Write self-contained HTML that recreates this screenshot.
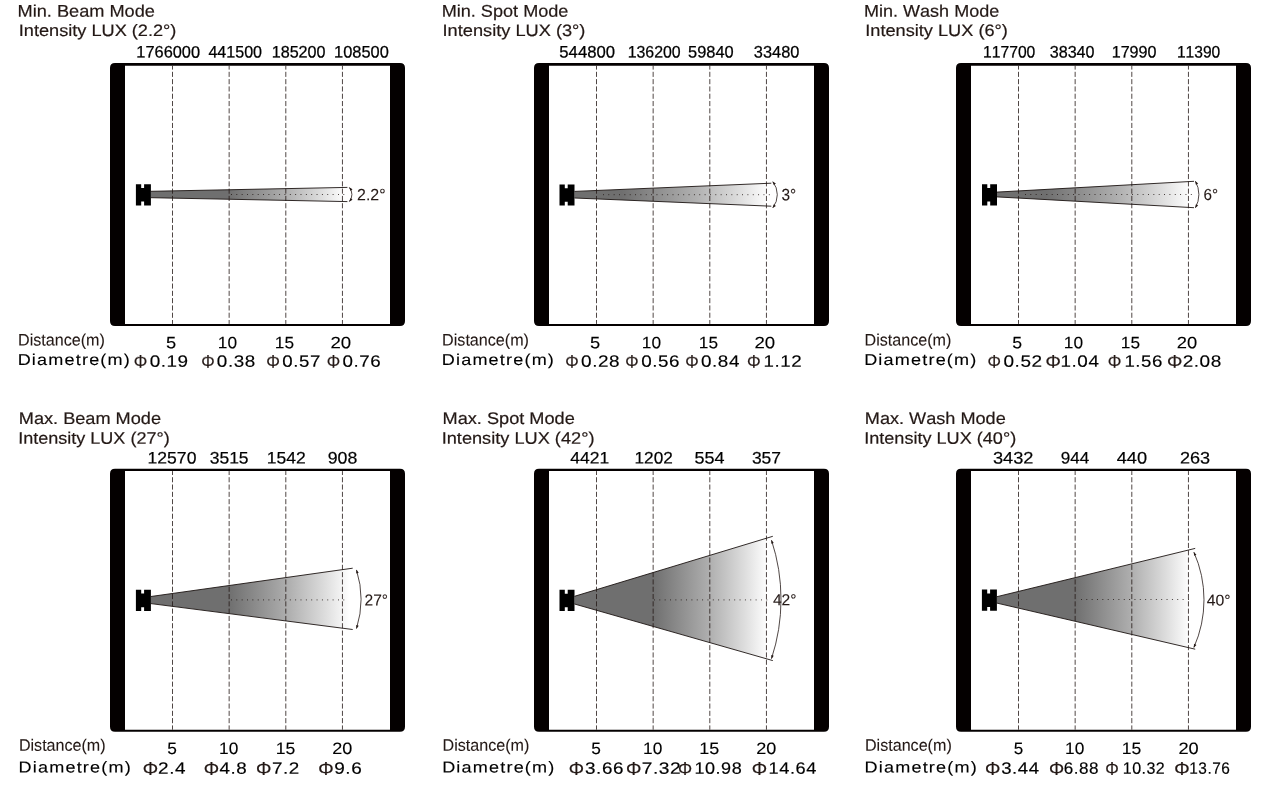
<!DOCTYPE html><html lang="en"><head><meta charset="utf-8"><title>Photometric data</title><style>html,body{margin:0;padding:0;background:#fff}body{width:1263px;height:785px;overflow:hidden}</style></head><body><svg width="1263" height="785" viewBox="0 0 1263 785" font-family='"Liberation Sans", Arial, sans-serif' fill="#231815" style="display:block;font-kerning:none;text-rendering:geometricPrecision"><rect width="1263" height="785" fill="#fff"/><g id="beams"><linearGradient id="g0" gradientUnits="userSpaceOnUse" x1="228.5" y1="0" x2="345.0" y2="0"><stop offset="0" stop-color="#6f6f6f"/><stop offset="0.5" stop-color="#b0b0b0"/><stop offset="0.8" stop-color="#dedede"/><stop offset="1" stop-color="#ffffff"/></linearGradient><path fill="url(#g0)" d="M150.90 191.30L346.00 187.43V201.57L150.90 197.70Z"/><path fill="none" stroke="#1c1412" stroke-width="0.9" d="M150.90 191.30L347.40 187.40M150.90 197.70L347.40 201.60"/><path fill="none" stroke="#231815" stroke-width="0.9" stroke-dasharray="0.9 4.45" d="M231.00 194.50H347.00"/><path fill="none" stroke="#231815" stroke-width="0.8" d="M349.40 187.50A11.05 11.05 0 0 1 349.40 201.50"/><path fill="#231815" d="M349.21 187.27L352.50 189.23L350.48 190.88Z"/><path fill="#231815" d="M349.21 201.73L352.50 199.77L350.48 198.12Z"/><linearGradient id="g1" gradientUnits="userSpaceOnUse" x1="622.0" y1="0" x2="769.0" y2="0"><stop offset="0" stop-color="#6f6f6f"/><stop offset="0.5" stop-color="#b0b0b0"/><stop offset="0.8" stop-color="#dedede"/><stop offset="1" stop-color="#ffffff"/></linearGradient><path fill="url(#g1)" d="M574.50 191.40L765.60 183.44V205.96L574.50 198.00Z"/><path fill="none" stroke="#1c1412" stroke-width="0.9" d="M574.50 191.40L771.30 183.20M574.50 198.00L771.30 206.20"/><path fill="none" stroke="#231815" stroke-width="0.9" stroke-dasharray="0.9 4.45" d="M603.00 194.70H771.00"/><path fill="none" stroke="#231815" stroke-width="0.8" d="M772.80 181.70A21.03 21.03 0 0 1 772.80 207.70"/><path fill="#231815" d="M772.61 181.46L775.86 183.49L773.82 185.10Z"/><path fill="#231815" d="M772.61 207.94L775.86 205.91L773.82 204.30Z"/><linearGradient id="g2" gradientUnits="userSpaceOnUse" x1="1046.0" y1="0" x2="1191.0" y2="0"><stop offset="0" stop-color="#6f6f6f"/><stop offset="0.5" stop-color="#b0b0b0"/><stop offset="0.8" stop-color="#dedede"/><stop offset="1" stop-color="#ffffff"/></linearGradient><path fill="url(#g2)" d="M997.00 192.10L1189.00 181.57V207.43L997.00 196.90Z"/><path fill="none" stroke="#1c1412" stroke-width="0.9" d="M997.00 192.10L1194.00 181.30M997.00 196.90L1194.00 207.70"/><path fill="none" stroke="#231815" stroke-width="0.9" stroke-dasharray="0.9 4.45" d="M1025.00 194.50H1192.00"/><path fill="none" stroke="#231815" stroke-width="0.8" d="M1195.40 181.30A26.64 26.64 0 0 1 1195.40 207.70"/><path fill="#231815" d="M1195.25 181.04L1198.16 183.52L1195.91 184.81Z"/><path fill="#231815" d="M1195.25 207.96L1198.16 205.48L1195.91 204.19Z"/><linearGradient id="g3" gradientUnits="userSpaceOnUse" x1="229.0" y1="0" x2="350.0" y2="0"><stop offset="0" stop-color="#6f6f6f"/><stop offset="0.5" stop-color="#b0b0b0"/><stop offset="0.8" stop-color="#dedede"/><stop offset="1" stop-color="#ffffff"/></linearGradient><path fill="url(#g3)" d="M150.90 596.50L352.00 568.30V629.41L150.90 603.60Z"/><path fill="none" stroke="#1c1412" stroke-width="0.9" d="M150.90 596.50L352.70 568.20M150.90 603.60L352.70 629.50"/><path fill="none" stroke="#231815" stroke-width="0.9" stroke-dasharray="0.9 4.45" d="M231.00 599.90H346.00"/><path fill="none" stroke="#231815" stroke-width="0.8" d="M356.50 569.95A97.64 97.64 0 0 1 356.50 628.55"/><path fill="#231815" d="M356.41 569.66L358.73 572.71L356.25 573.49Z"/><path fill="#231815" d="M356.41 628.84L358.73 625.79L356.25 625.01Z"/><linearGradient id="g4" gradientUnits="userSpaceOnUse" x1="653.0" y1="0" x2="768.0" y2="0"><stop offset="0" stop-color="#6f6f6f"/><stop offset="0.5" stop-color="#b0b0b0"/><stop offset="0.8" stop-color="#dedede"/><stop offset="1" stop-color="#ffffff"/></linearGradient><path fill="url(#g4)" d="M574.50 596.30L767.00 538.05V658.94L574.50 604.00Z"/><path fill="none" stroke="#1c1412" stroke-width="0.9" d="M574.50 596.30L772.80 536.30M574.50 604.00L772.80 660.60"/><path fill="none" stroke="#231815" stroke-width="0.9" stroke-dasharray="0.9 4.45" d="M654.00 599.90H768.00"/><path fill="none" stroke="#231815" stroke-width="0.8" d="M771.50 540.20A189.20 189.20 0 0 1 771.50 658.60"/><path fill="#231815" d="M771.41 539.92L773.77 542.93L771.30 543.74Z"/><path fill="#231815" d="M771.41 658.88L773.77 655.87L771.30 655.06Z"/><linearGradient id="g5" gradientUnits="userSpaceOnUse" x1="1075.0" y1="0" x2="1190.0" y2="0"><stop offset="0" stop-color="#6f6f6f"/><stop offset="0.5" stop-color="#b0b0b0"/><stop offset="0.8" stop-color="#dedede"/><stop offset="1" stop-color="#ffffff"/></linearGradient><path fill="url(#g5)" d="M996.90 596.70L1190.00 549.67V647.99L996.90 603.10Z"/><path fill="none" stroke="#1c1412" stroke-width="0.9" d="M996.90 596.70L1195.20 548.40M996.90 603.10L1195.20 649.20"/><path fill="none" stroke="#231815" stroke-width="0.9" stroke-dasharray="0.9 4.45" d="M1081.00 599.50H1193.00"/><path fill="none" stroke="#231815" stroke-width="0.8" d="M1193.90 552.20A117.22 117.22 0 0 1 1193.90 647.40"/><path fill="#231815" d="M1193.78 551.93L1196.43 554.69L1194.05 555.74Z"/><path fill="#231815" d="M1193.78 647.67L1196.43 644.91L1194.05 643.86Z"/></g><path fill="#040000" fill-rule="evenodd" d="M115.00 63.00H400.00Q405.00 63.00 405.00 68.00V321.00Q405.00 326.00 400.00 326.00H115.00Q110.00 326.00 110.00 321.00V68.00Q110.00 63.00 115.00 63.00ZM125.00 65.70V323.90H390.00V65.70Z"/><path fill="none" stroke="#231815" stroke-width="0.8" stroke-dasharray="5.1 2.2" stroke-dashoffset="1.2" d="M172.50 65.70V323.90"/><path fill="none" stroke="#231815" stroke-width="0.8" stroke-dasharray="5.1 2.2" stroke-dashoffset="1.2" d="M229.15 65.70V323.90"/><path fill="none" stroke="#231815" stroke-width="0.8" stroke-dasharray="5.1 2.2" stroke-dashoffset="1.2" d="M285.80 65.70V323.90"/><path fill="none" stroke="#231815" stroke-width="0.8" stroke-dasharray="5.1 2.2" stroke-dashoffset="1.2" d="M342.45 65.70V323.90"/><path fill="#000" d="M135.90 184.20H141.20V188.00H144.10V184.20H150.90V205.40H144.10V201.60H141.20V205.40H135.90Z"/><path fill="#040000" fill-rule="evenodd" d="M539.00 63.00H824.00Q829.00 63.00 829.00 68.00V321.00Q829.00 326.00 824.00 326.00H539.00Q534.00 326.00 534.00 321.00V68.00Q534.00 63.00 539.00 63.00ZM549.00 65.70V323.90H814.00V65.70Z"/><path fill="none" stroke="#231815" stroke-width="0.8" stroke-dasharray="5.1 2.2" stroke-dashoffset="1.2" d="M596.50 65.70V323.90"/><path fill="none" stroke="#231815" stroke-width="0.8" stroke-dasharray="5.1 2.2" stroke-dashoffset="1.2" d="M653.15 65.70V323.90"/><path fill="none" stroke="#231815" stroke-width="0.8" stroke-dasharray="5.1 2.2" stroke-dashoffset="1.2" d="M709.80 65.70V323.90"/><path fill="none" stroke="#231815" stroke-width="0.8" stroke-dasharray="5.1 2.2" stroke-dashoffset="1.2" d="M766.45 65.70V323.90"/><path fill="#000" d="M559.50 184.40H564.80V188.20H567.70V184.40H574.50V205.60H567.70V201.80H564.80V205.60H559.50Z"/><path fill="#040000" fill-rule="evenodd" d="M961.00 63.00H1246.00Q1251.00 63.00 1251.00 68.00V321.00Q1251.00 326.00 1246.00 326.00H961.00Q956.00 326.00 956.00 321.00V68.00Q956.00 63.00 961.00 63.00ZM971.00 65.70V323.90H1236.00V65.70Z"/><path fill="none" stroke="#231815" stroke-width="0.8" stroke-dasharray="5.1 2.2" stroke-dashoffset="1.2" d="M1018.50 65.70V323.90"/><path fill="none" stroke="#231815" stroke-width="0.8" stroke-dasharray="5.1 2.2" stroke-dashoffset="1.2" d="M1075.15 65.70V323.90"/><path fill="none" stroke="#231815" stroke-width="0.8" stroke-dasharray="5.1 2.2" stroke-dashoffset="1.2" d="M1131.80 65.70V323.90"/><path fill="none" stroke="#231815" stroke-width="0.8" stroke-dasharray="5.1 2.2" stroke-dashoffset="1.2" d="M1188.45 65.70V323.90"/><path fill="#000" d="M982.00 184.20H987.30V188.00H990.20V184.20H997.00V205.40H990.20V201.60H987.30V205.40H982.00Z"/><path fill="#040000" fill-rule="evenodd" d="M115.00 468.80H400.00Q405.00 468.80 405.00 473.80V726.80Q405.00 731.80 400.00 731.80H115.00Q110.00 731.80 110.00 726.80V473.80Q110.00 468.80 115.00 468.80ZM125.00 471.10V729.70H390.00V471.10Z"/><path fill="none" stroke="#231815" stroke-width="0.8" stroke-dasharray="5.1 2.2" stroke-dashoffset="1.2" d="M172.50 471.10V729.70"/><path fill="none" stroke="#231815" stroke-width="0.8" stroke-dasharray="5.1 2.2" stroke-dashoffset="1.2" d="M229.15 471.10V729.70"/><path fill="none" stroke="#231815" stroke-width="0.8" stroke-dasharray="5.1 2.2" stroke-dashoffset="1.2" d="M285.80 471.10V729.70"/><path fill="none" stroke="#231815" stroke-width="0.8" stroke-dasharray="5.1 2.2" stroke-dashoffset="1.2" d="M342.45 471.10V729.70"/><path fill="#000" d="M135.90 589.75H141.20V593.55H144.10V589.75H150.90V610.95H144.10V607.15H141.20V610.95H135.90Z"/><path fill="#040000" fill-rule="evenodd" d="M539.00 468.80H824.00Q829.00 468.80 829.00 473.80V726.80Q829.00 731.80 824.00 731.80H539.00Q534.00 731.80 534.00 726.80V473.80Q534.00 468.80 539.00 468.80ZM549.00 471.10V729.70H814.00V471.10Z"/><path fill="none" stroke="#231815" stroke-width="0.8" stroke-dasharray="5.1 2.2" stroke-dashoffset="1.2" d="M596.50 471.10V729.70"/><path fill="none" stroke="#231815" stroke-width="0.8" stroke-dasharray="5.1 2.2" stroke-dashoffset="1.2" d="M653.15 471.10V729.70"/><path fill="none" stroke="#231815" stroke-width="0.8" stroke-dasharray="5.1 2.2" stroke-dashoffset="1.2" d="M709.80 471.10V729.70"/><path fill="none" stroke="#231815" stroke-width="0.8" stroke-dasharray="5.1 2.2" stroke-dashoffset="1.2" d="M766.45 471.10V729.70"/><path fill="#000" d="M559.50 589.85H564.80V593.65H567.70V589.85H574.50V611.05H567.70V607.25H564.80V611.05H559.50Z"/><path fill="#040000" fill-rule="evenodd" d="M961.00 468.80H1246.00Q1251.00 468.80 1251.00 473.80V726.80Q1251.00 731.80 1246.00 731.80H961.00Q956.00 731.80 956.00 726.80V473.80Q956.00 468.80 961.00 468.80ZM971.00 471.10V729.70H1236.00V471.10Z"/><path fill="none" stroke="#231815" stroke-width="0.8" stroke-dasharray="5.1 2.2" stroke-dashoffset="1.2" d="M1018.50 471.10V729.70"/><path fill="none" stroke="#231815" stroke-width="0.8" stroke-dasharray="5.1 2.2" stroke-dashoffset="1.2" d="M1075.15 471.10V729.70"/><path fill="none" stroke="#231815" stroke-width="0.8" stroke-dasharray="5.1 2.2" stroke-dashoffset="1.2" d="M1131.80 471.10V729.70"/><path fill="none" stroke="#231815" stroke-width="0.8" stroke-dasharray="5.1 2.2" stroke-dashoffset="1.2" d="M1188.45 471.10V729.70"/><path fill="#000" d="M981.90 589.60H987.20V593.40H990.10V589.60H996.90V610.80H990.10V607.00H987.20V610.80H981.90Z"/><text transform="translate(17.54 16.70) rotate(0.03) scale(1.0729 1)" font-size="16.96" stroke="#231815" stroke-width="0.2">Min. Beam Mode</text><text transform="translate(18.77 36.00) rotate(0.03) scale(1.0995 1)" font-size="16.52" stroke="#231815" stroke-width="0.2">Intensity LUX (2.2°)</text><text transform="translate(441.65 16.70) rotate(0.03) scale(1.0686 1)" font-size="16.96" stroke="#231815" stroke-width="0.2">Min. Spot Mode</text><text transform="translate(442.56 36.00) rotate(0.03) scale(1.1022 1)" font-size="16.52" stroke="#231815" stroke-width="0.2">Intensity LUX (3°)</text><text transform="translate(864.06 16.70) rotate(0.03) scale(1.0635 1)" font-size="16.96" stroke="#231815" stroke-width="0.2">Min. Wash Mode</text><text transform="translate(865.26 36.00) rotate(0.03) scale(1.1007 1)" font-size="16.52" stroke="#231815" stroke-width="0.2">Intensity LUX (6°)</text><text transform="translate(18.75 423.90) rotate(0.03) scale(1.0810 1)" font-size="16.81" stroke="#231815" stroke-width="0.2">Max. Beam Mode</text><text transform="translate(18.18 443.70) rotate(0.03) scale(1.0823 1)" font-size="16.67" stroke="#231815" stroke-width="0.2">Intensity LUX (27°)</text><text transform="translate(442.55 423.90) rotate(0.03) scale(1.0809 1)" font-size="16.81" stroke="#231815" stroke-width="0.2">Max. Spot Mode</text><text transform="translate(441.66 443.70) rotate(0.03) scale(1.0917 1)" font-size="16.67" stroke="#231815" stroke-width="0.2">Intensity LUX (42°)</text><text transform="translate(864.85 423.90) rotate(0.03) scale(1.0780 1)" font-size="16.81" stroke="#231815" stroke-width="0.2">Max. Wash Mode</text><text transform="translate(864.17 443.70) rotate(0.03) scale(1.0859 1)" font-size="16.67" stroke="#231815" stroke-width="0.2">Intensity LUX (40°)</text><text transform="translate(136.35 57.60) rotate(0.03) scale(0.9823 1)" font-size="16.67" fill="#000" stroke="#000" stroke-width="0.25">1766000</text><text transform="translate(208.38 57.60) rotate(0.03) scale(0.9656 1)" font-size="16.67" fill="#000" stroke="#000" stroke-width="0.25">441500</text><text transform="translate(271.67 57.60) rotate(0.03) scale(0.9694 1)" font-size="16.67" fill="#000" stroke="#000" stroke-width="0.25">185200</text><text transform="translate(334.05 57.60) rotate(0.03) scale(0.9843 1)" font-size="16.67" fill="#000" stroke="#000" stroke-width="0.25">108500</text><text transform="translate(559.33 57.60) rotate(0.03) scale(1.0028 1)" font-size="16.67" fill="#000" stroke="#000" stroke-width="0.25">544800</text><text transform="translate(627.69 57.60) rotate(0.03) scale(0.9527 1)" font-size="16.67" fill="#000" stroke="#000" stroke-width="0.25">136200</text><text transform="translate(688.04 57.60) rotate(0.03) scale(0.9850 1)" font-size="16.67" fill="#000" stroke="#000" stroke-width="0.25">59840</text><text transform="translate(753.81 57.60) rotate(0.03) scale(0.9836 1)" font-size="16.67" fill="#000" stroke="#000" stroke-width="0.25">33480</text><text transform="translate(983.00 57.60) rotate(0.03) scale(0.9416 1)" font-size="16.67" fill="#000" stroke="#000" stroke-width="0.25">117700</text><text transform="translate(1049.72 57.60) rotate(0.03) scale(0.9681 1)" font-size="16.67" fill="#000" stroke="#000" stroke-width="0.25">38340</text><text transform="translate(1111.67 57.60) rotate(0.03) scale(0.9691 1)" font-size="16.67" fill="#000" stroke="#000" stroke-width="0.25">17990</text><text transform="translate(1176.91 57.60) rotate(0.03) scale(0.9355 1)" font-size="16.67" fill="#000" stroke="#000" stroke-width="0.25">11390</text><text transform="translate(147.57 463.40) rotate(0.03) scale(1.0544 1)" font-size="16.67" fill="#000" stroke="#000" stroke-width="0.2">12570</text><text transform="translate(209.67 463.40) rotate(0.03) scale(1.0508 1)" font-size="16.67" fill="#000" stroke="#000" stroke-width="0.2">3515</text><text transform="translate(266.67 463.40) rotate(0.03) scale(1.0529 1)" font-size="16.67" fill="#000" stroke="#000" stroke-width="0.2">1542</text><text transform="translate(327.69 463.40) rotate(0.03) scale(1.0626 1)" font-size="16.67" fill="#000" stroke="#000" stroke-width="0.2">908</text><text transform="translate(570.35 463.40) rotate(0.03) scale(1.0508 1)" font-size="16.67" fill="#000" stroke="#000" stroke-width="0.2">4421</text><text transform="translate(634.49 463.40) rotate(0.03) scale(1.0330 1)" font-size="16.67" fill="#000" stroke="#000" stroke-width="0.2">1202</text><text transform="translate(694.38 463.40) rotate(0.03) scale(1.0822 1)" font-size="16.67" fill="#000" stroke="#000" stroke-width="0.2">554</text><text transform="translate(751.88 463.40) rotate(0.03) scale(1.0475 1)" font-size="16.67" fill="#000" stroke="#000" stroke-width="0.2">357</text><text transform="translate(992.95 463.40) rotate(0.03) scale(1.0919 1)" font-size="16.67" fill="#000" stroke="#000" stroke-width="0.2">3432</text><text transform="translate(1060.82 463.40) rotate(0.03) scale(1.0260 1)" font-size="16.67" fill="#000" stroke="#000" stroke-width="0.2">944</text><text transform="translate(1116.74 463.40) rotate(0.03) scale(1.0904 1)" font-size="16.67" fill="#000" stroke="#000" stroke-width="0.2">440</text><text transform="translate(1179.90 463.40) rotate(0.03) scale(1.0845 1)" font-size="16.67" fill="#000" stroke="#000" stroke-width="0.2">263</text><text transform="translate(18.01 345.40) rotate(0.03) scale(0.9721 1)" font-size="16.59" stroke="#231815" stroke-width="0.1">Distance(m)</text><text transform="translate(17.65 365.00) rotate(0.03) scale(1.1435 1)" font-size="15.80" letter-spacing="1.03" fill="#000" stroke="#000" stroke-width="0.12">Diametre(m)</text><text transform="translate(442.11 345.40) rotate(0.03) scale(0.9721 1)" font-size="16.59" stroke="#231815" stroke-width="0.1">Distance(m)</text><text transform="translate(441.75 365.00) rotate(0.03) scale(1.1435 1)" font-size="15.80" letter-spacing="1.03" fill="#000" stroke="#000" stroke-width="0.12">Diametre(m)</text><text transform="translate(864.51 345.40) rotate(0.03) scale(0.9721 1)" font-size="16.59" stroke="#231815" stroke-width="0.1">Distance(m)</text><text transform="translate(864.15 365.00) rotate(0.03) scale(1.1435 1)" font-size="15.80" letter-spacing="1.03" fill="#000" stroke="#000" stroke-width="0.12">Diametre(m)</text><text transform="translate(18.91 750.70) rotate(0.03) scale(0.9699 1)" font-size="16.59" stroke="#231815" stroke-width="0.1">Distance(m)</text><text transform="translate(18.55 772.40) rotate(0.03) scale(1.1435 1)" font-size="15.80" letter-spacing="1.03" fill="#000" stroke="#000" stroke-width="0.12">Diametre(m)</text><text transform="translate(442.51 750.70) rotate(0.03) scale(0.9710 1)" font-size="16.59" stroke="#231815" stroke-width="0.1">Distance(m)</text><text transform="translate(442.15 772.40) rotate(0.03) scale(1.1435 1)" font-size="15.80" letter-spacing="1.03" fill="#000" stroke="#000" stroke-width="0.12">Diametre(m)</text><text transform="translate(864.91 750.70) rotate(0.03) scale(0.9721 1)" font-size="16.59" stroke="#231815" stroke-width="0.1">Distance(m)</text><text transform="translate(864.55 772.40) rotate(0.03) scale(1.1435 1)" font-size="15.80" letter-spacing="1.03" fill="#000" stroke="#000" stroke-width="0.12">Diametre(m)</text><text transform="translate(165.97 348.30) rotate(0.03) scale(1.1096 1)" font-size="16.52" fill="#000" stroke="#000" stroke-width="0.12">5</text><text transform="translate(217.79 348.30) rotate(0.03) scale(1.0467 1)" font-size="16.52" fill="#000" stroke="#000" stroke-width="0.12">10</text><text transform="translate(274.79 348.30) rotate(0.03) scale(1.0467 1)" font-size="16.52" fill="#000" stroke="#000" stroke-width="0.12">15</text><text transform="translate(330.47 348.30) rotate(0.03) scale(1.1266 1)" font-size="16.52" fill="#000" stroke="#000" stroke-width="0.12">20</text><text transform="translate(589.97 348.30) rotate(0.03) scale(1.1096 1)" font-size="16.52" fill="#000" stroke="#000" stroke-width="0.12">5</text><text transform="translate(641.79 348.30) rotate(0.03) scale(1.0467 1)" font-size="16.52" fill="#000" stroke="#000" stroke-width="0.12">10</text><text transform="translate(698.79 348.30) rotate(0.03) scale(1.0467 1)" font-size="16.52" fill="#000" stroke="#000" stroke-width="0.12">15</text><text transform="translate(754.47 348.30) rotate(0.03) scale(1.1266 1)" font-size="16.52" fill="#000" stroke="#000" stroke-width="0.12">20</text><text transform="translate(1012.29 348.30) rotate(0.03) scale(1.0718 1)" font-size="16.52" fill="#000" stroke="#000" stroke-width="0.12">5</text><text transform="translate(1063.79 348.30) rotate(0.03) scale(1.0467 1)" font-size="16.52" fill="#000" stroke="#000" stroke-width="0.12">10</text><text transform="translate(1120.79 348.30) rotate(0.03) scale(1.0467 1)" font-size="16.52" fill="#000" stroke="#000" stroke-width="0.12">15</text><text transform="translate(1176.78 348.30) rotate(0.03) scale(1.1089 1)" font-size="16.52" fill="#000" stroke="#000" stroke-width="0.12">20</text><text transform="translate(167.31 753.90) rotate(0.03) scale(1.0466 1)" font-size="16.52" fill="#000" stroke="#000" stroke-width="0.12">5</text><text transform="translate(219.09 753.90) rotate(0.03) scale(1.0467 1)" font-size="16.52" fill="#000" stroke="#000" stroke-width="0.12">10</text><text transform="translate(275.67 753.90) rotate(0.03) scale(1.0648 1)" font-size="16.52" fill="#000" stroke="#000" stroke-width="0.12">15</text><text transform="translate(332.20 753.90) rotate(0.03) scale(1.0912 1)" font-size="16.52" fill="#000" stroke="#000" stroke-width="0.12">20</text><text transform="translate(591.31 753.90) rotate(0.03) scale(1.0466 1)" font-size="16.52" fill="#000" stroke="#000" stroke-width="0.12">5</text><text transform="translate(643.09 753.90) rotate(0.03) scale(1.0467 1)" font-size="16.52" fill="#000" stroke="#000" stroke-width="0.12">10</text><text transform="translate(699.24 753.90) rotate(0.03) scale(1.0888 1)" font-size="16.52" fill="#000" stroke="#000" stroke-width="0.12">15</text><text transform="translate(756.20 753.90) rotate(0.03) scale(1.0912 1)" font-size="16.52" fill="#000" stroke="#000" stroke-width="0.12">20</text><text transform="translate(1013.72 753.90) rotate(0.03) scale(1.0340 1)" font-size="16.52" fill="#000" stroke="#000" stroke-width="0.12">5</text><text transform="translate(1065.09 753.90) rotate(0.03) scale(1.0467 1)" font-size="16.52" fill="#000" stroke="#000" stroke-width="0.12">10</text><text transform="translate(1121.67 753.90) rotate(0.03) scale(1.0648 1)" font-size="16.52" fill="#000" stroke="#000" stroke-width="0.12">15</text><text transform="translate(1178.49 753.90) rotate(0.03) scale(1.1030 1)" font-size="16.52" fill="#000" stroke="#000" stroke-width="0.12">20</text><text transform="translate(133.66 367.30) rotate(0.03) scale(1.0416 1)" font-size="16.18" stroke="#231815" stroke-width="0.2" font-family='"Noto Sans CJK SC", sans-serif'>Φ</text><text transform="translate(149.63 366.70) rotate(0.03) scale(1.1425 1)" font-size="16.52" letter-spacing="0.50" fill="#000" stroke="#000" stroke-width="0.15">0.19</text><text transform="translate(201.16 367.30) rotate(0.03) scale(1.0328 1)" font-size="16.18" stroke="#231815" stroke-width="0.2" font-family='"Noto Sans CJK SC", sans-serif'>Φ</text><text transform="translate(216.84 366.70) rotate(0.03) scale(1.1398 1)" font-size="16.52" letter-spacing="0.50" fill="#000" stroke="#000" stroke-width="0.15">0.38</text><text transform="translate(266.15 367.30) rotate(0.03) scale(1.0504 1)" font-size="16.18" stroke="#231815" stroke-width="0.2" font-family='"Noto Sans CJK SC", sans-serif'>Φ</text><text transform="translate(282.24 366.70) rotate(0.03) scale(1.1302 1)" font-size="16.52" letter-spacing="0.50" fill="#000" stroke="#000" stroke-width="0.15">0.57</text><text transform="translate(326.66 367.30) rotate(0.03) scale(1.0328 1)" font-size="16.18" stroke="#231815" stroke-width="0.2" font-family='"Noto Sans CJK SC", sans-serif'>Φ</text><text transform="translate(342.44 366.70) rotate(0.03) scale(1.1367 1)" font-size="16.52" letter-spacing="0.50" fill="#000" stroke="#000" stroke-width="0.15">0.76</text><text transform="translate(565.16 367.30) rotate(0.03) scale(1.0328 1)" font-size="16.18" stroke="#231815" stroke-width="0.2" font-family='"Noto Sans CJK SC", sans-serif'>Φ</text><text transform="translate(581.03 366.70) rotate(0.03) scale(1.1459 1)" font-size="16.52" letter-spacing="0.50" fill="#000" stroke="#000" stroke-width="0.15">0.28</text><text transform="translate(625.27 367.30) rotate(0.03) scale(1.0239 1)" font-size="16.18" stroke="#231815" stroke-width="0.2" font-family='"Noto Sans CJK SC", sans-serif'>Φ</text><text transform="translate(641.24 366.70) rotate(0.03) scale(1.1398 1)" font-size="16.52" letter-spacing="0.50" fill="#000" stroke="#000" stroke-width="0.15">0.56</text><text transform="translate(685.16 367.30) rotate(0.03) scale(1.0328 1)" font-size="16.18" stroke="#231815" stroke-width="0.2" font-family='"Noto Sans CJK SC", sans-serif'>Φ</text><text transform="translate(701.03 366.70) rotate(0.03) scale(1.1401 1)" font-size="16.52" letter-spacing="0.50" fill="#000" stroke="#000" stroke-width="0.15">0.84</text><text transform="translate(747.05 367.30) rotate(0.03) scale(1.0504 1)" font-size="16.18" stroke="#231815" stroke-width="0.2" font-family='"Noto Sans CJK SC", sans-serif'>Φ</text><text transform="translate(763.59 366.70) rotate(0.03) scale(1.1348 1)" font-size="16.52" letter-spacing="0.50" fill="#000" stroke="#000" stroke-width="0.15">1.12</text><text transform="translate(987.56 367.30) rotate(0.03) scale(1.0328 1)" font-size="16.18" stroke="#231815" stroke-width="0.2" font-family='"Noto Sans CJK SC", sans-serif'>Φ</text><text transform="translate(1003.43 366.70) rotate(0.03) scale(1.1487 1)" font-size="16.52" letter-spacing="0.50" fill="#000" stroke="#000" stroke-width="0.15">0.52</text><text transform="translate(1045.44 367.30) rotate(0.03) scale(1.1828 1)" font-size="16.18" stroke="#231815" stroke-width="0.2" font-family='"Noto Sans CJK SC", sans-serif'>Φ</text><text transform="translate(1060.48 366.70) rotate(0.03) scale(1.1418 1)" font-size="16.52" letter-spacing="0.50" fill="#000" stroke="#000" stroke-width="0.15">1.04</text><text transform="translate(1107.85 367.30) rotate(0.03) scale(1.0504 1)" font-size="16.18" stroke="#231815" stroke-width="0.2" font-family='"Noto Sans CJK SC", sans-serif'>Φ</text><text transform="translate(1124.39 366.70) rotate(0.03) scale(1.1320 1)" font-size="16.52" letter-spacing="0.50" fill="#000" stroke="#000" stroke-width="0.15">1.56</text><text transform="translate(1166.94 367.30) rotate(0.03) scale(1.1828 1)" font-size="16.18" stroke="#231815" stroke-width="0.2" font-family='"Noto Sans CJK SC", sans-serif'>Φ</text><text transform="translate(1182.65 366.70) rotate(0.03) scale(1.1484 1)" font-size="16.52" letter-spacing="0.50" fill="#000" stroke="#000" stroke-width="0.15">2.08</text><text transform="translate(142.64 774.40) rotate(0.03) scale(1.1639 1)" font-size="16.45" stroke="#231815" stroke-width="0.2" font-family='"Noto Sans CJK SC", sans-serif'>Φ</text><text transform="translate(158.05 773.80) rotate(0.03) scale(1.1453 1)" font-size="16.52" letter-spacing="0.50" fill="#000" stroke="#000" stroke-width="0.18">2.4</text><text transform="translate(203.64 774.40) rotate(0.03) scale(1.1639 1)" font-size="16.45" stroke="#231815" stroke-width="0.2" font-family='"Noto Sans CJK SC", sans-serif'>Φ</text><text transform="translate(219.42 773.80) rotate(0.03) scale(1.1376 1)" font-size="16.52" letter-spacing="0.50" fill="#000" stroke="#000" stroke-width="0.18">4.8</text><text transform="translate(256.04 774.40) rotate(0.03) scale(1.1639 1)" font-size="16.45" stroke="#231815" stroke-width="0.2" font-family='"Noto Sans CJK SC", sans-serif'>Φ</text><text transform="translate(271.96 773.80) rotate(0.03) scale(1.1399 1)" font-size="16.52" letter-spacing="0.50" fill="#000" stroke="#000" stroke-width="0.18">7.2</text><text transform="translate(318.24 774.40) rotate(0.03) scale(1.1639 1)" font-size="16.45" stroke="#231815" stroke-width="0.2" font-family='"Noto Sans CJK SC", sans-serif'>Φ</text><text transform="translate(334.14 773.80) rotate(0.03) scale(1.1497 1)" font-size="16.52" letter-spacing="0.50" fill="#000" stroke="#000" stroke-width="0.18">9.6</text><text transform="translate(568.75 774.40) rotate(0.03) scale(1.1552 1)" font-size="16.45" stroke="#231815" stroke-width="0.2" font-family='"Noto Sans CJK SC", sans-serif'>Φ</text><text transform="translate(585.04 773.80) rotate(0.03) scale(1.1398 1)" font-size="16.52" letter-spacing="0.50" fill="#000" stroke="#000" stroke-width="0.18">3.66</text><text transform="translate(626.04 774.40) rotate(0.03) scale(1.1639 1)" font-size="16.45" stroke="#231815" stroke-width="0.2" font-family='"Noto Sans CJK SC", sans-serif'>Φ</text><text transform="translate(641.74 773.80) rotate(0.03) scale(1.1574 1)" font-size="16.52" letter-spacing="0.50" fill="#000" stroke="#000" stroke-width="0.18">7.32</text><text transform="translate(677.92 774.40) rotate(0.03) scale(1.0683 1)" font-size="16.45" stroke="#231815" stroke-width="0.2" font-family='"Noto Sans CJK SC", sans-serif'>Φ</text><text transform="translate(694.44 773.80) rotate(0.03) scale(1.0896 1)" font-size="16.52" letter-spacing="0.50" fill="#000" stroke="#000" stroke-width="0.18">10.98</text><text transform="translate(751.84 774.40) rotate(0.03) scale(1.1639 1)" font-size="16.45" stroke="#231815" stroke-width="0.2" font-family='"Noto Sans CJK SC", sans-serif'>Φ</text><text transform="translate(768.53 773.80) rotate(0.03) scale(1.1021 1)" font-size="16.52" letter-spacing="0.50" fill="#000" stroke="#000" stroke-width="0.18">14.64</text><text transform="translate(985.04 774.40) rotate(0.03) scale(1.1639 1)" font-size="16.45" stroke="#231815" stroke-width="0.2" font-family='"Noto Sans CJK SC", sans-serif'>Φ</text><text transform="translate(1001.24 773.80) rotate(0.03) scale(1.1218 1)" font-size="16.52" letter-spacing="0.50" fill="#000" stroke="#000" stroke-width="0.18">3.44</text><text transform="translate(1049.06 774.40) rotate(0.03) scale(1.1465 1)" font-size="16.45" stroke="#231815" stroke-width="0.2" font-family='"Noto Sans CJK SC", sans-serif'>Φ</text><text transform="translate(1063.75 773.80) rotate(0.03) scale(1.0335 1)" font-size="16.52" letter-spacing="0.50" fill="#000" stroke="#000" stroke-width="0.18">6.88</text><text transform="translate(1105.36 774.40) rotate(0.03) scale(1.0249 1)" font-size="16.45" stroke="#231815" stroke-width="0.2" font-family='"Noto Sans CJK SC", sans-serif'>Φ</text><text transform="translate(1122.78 773.80) rotate(0.03) scale(0.9684 1)" font-size="16.52" letter-spacing="0.50" fill="#000" stroke="#000" stroke-width="0.18">10.32</text><text transform="translate(1174.14 774.40) rotate(0.03) scale(1.1639 1)" font-size="16.45" stroke="#231815" stroke-width="0.2" font-family='"Noto Sans CJK SC", sans-serif'>Φ</text><text transform="translate(1189.32 773.80) rotate(0.03) scale(0.9333 1)" font-size="16.52" letter-spacing="0.50" fill="#000" stroke="#000" stroke-width="0.18">13.76</text><text transform="translate(357.11 200.30) rotate(0.03) scale(0.9619 1)" font-size="16.52" stroke="#231815" stroke-width="0.1">2.2°</text><text transform="translate(781.44 200.30) rotate(0.03) scale(0.9376 1)" font-size="16.38" stroke="#231815" stroke-width="0.1">3°</text><text transform="translate(1203.54 200.10) rotate(0.03) scale(0.9563 1)" font-size="15.94" stroke="#231815" stroke-width="0.1">6°</text><text transform="translate(364.52 605.60) rotate(0.03) scale(0.9751 1)" font-size="15.94" stroke="#231815" stroke-width="0.1">27°</text><text transform="translate(772.89 605.30) rotate(0.03) scale(0.9810 1)" font-size="15.94" stroke="#231815" stroke-width="0.1">42°</text><text transform="translate(1206.68 605.50) rotate(0.03) scale(1.0175 1)" font-size="15.51" stroke="#231815" stroke-width="0.1">40°</text></svg></body></html>
